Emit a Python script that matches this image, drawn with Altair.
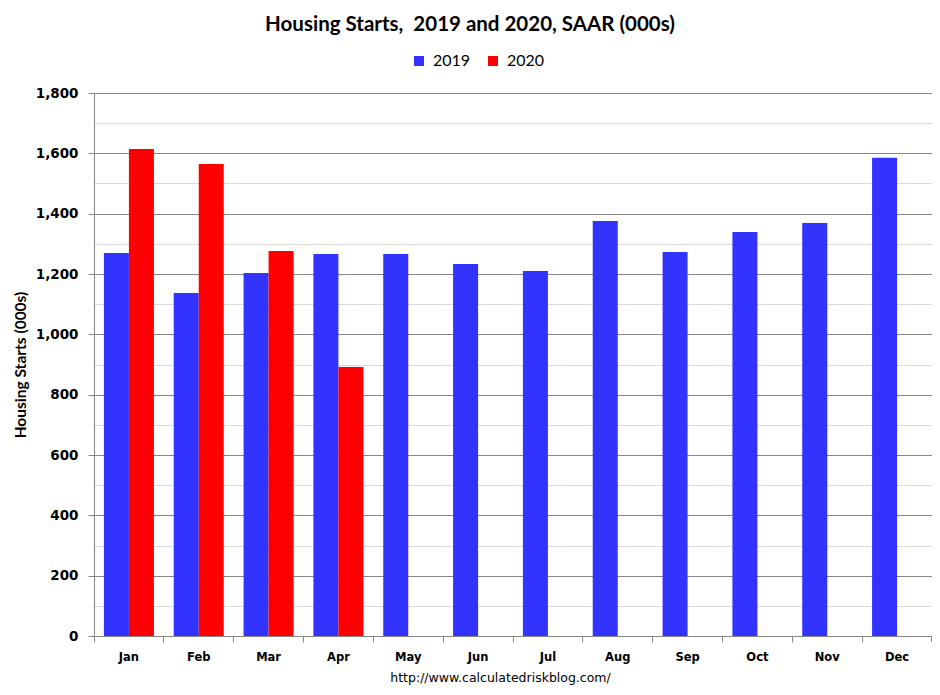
import altair as alt
import pandas as pd

months = ["Jan", "Feb", "Mar", "Apr", "May", "Jun", "Jul", "Aug", "Sep", "Oct", "Nov", "Dec"]
starts_2019 = [1270, 1137, 1203, 1266, 1266, 1233, 1210, 1376, 1273, 1339, 1369, 1585]
months_2020 = ["Jan", "Feb", "Mar", "Apr"]
starts_2020 = [1614, 1565, 1276, 892]

rows = [{"month": m, "year": "2019", "value": v} for m, v in zip(months, starts_2019)]
rows += [{"month": m, "year": "2020", "value": v} for m, v in zip(months_2020, starts_2020)]
df = pd.DataFrame(rows)

W, H = 838, 543
grid_major = "#868686"
grid_minor = "#d9d9d9"

bars = alt.Chart(df).mark_bar().encode(
    x=alt.X(
        "month:N",
        sort=months,
        scale=alt.Scale(paddingInner=0, paddingOuter=0),
        axis=alt.Axis(
            title="http://www.calculatedriskblog.com/",
            titleFont="DejaVu Sans",
            titleFontWeight="normal",
            titleFontSize=12.5,
            titleColor="#000000",
            titleX=406,
            titleY=45,
            titleBaseline="alphabetic",
            labelAngle=0,
            labelFont="DejaVu Sans",
            labelFontWeight="bold",
            labelFontSize=11.5,
            labelColor="#000000",
            labelPadding=9,
            bandPosition=0,
            ticks=True,
            tickSize=6,
            tickWidth=1,
            tickColor=grid_major,
            domainColor=grid_major,
            grid=False,
        ),
    ),
    xOffset=alt.XOffset("year:N", scale=alt.Scale(paddingOuter=0.396, paddingInner=0)),
    y=alt.Y(
        "value:Q",
        scale=alt.Scale(domain=[0, 1800], nice=False),
        axis=alt.Axis(
            title="Housing Starts (000s)",
            titleFont="Lato",
            titleFontWeight="bold",
            titleFontSize=15.5,
            titleColor="#000000",
            titleX=-74,
            titleY=H / 2,
            titleAngle=-90,
            titleAlign="center",
            titleBaseline="middle",
            values=list(range(0, 1801, 100)),
            labelExpr="datum.value % 200 ? '' : format(datum.value, ',')",
            labelFont="DejaVu Sans",
            labelFontWeight="bold",
            labelFontSize=13.5,
            labelColor="#000000",
            labelPadding=10,
            tickSize=6,
            tickColor={"condition": {"test": "datum.value % 200 === 0", "value": grid_major}, "value": "transparent"},
            domainColor=grid_major,
            grid=True,
            gridColor={"condition": {"test": "datum.value % 200 === 0", "value": grid_major}, "value": grid_minor},
        ),
    ),
    color=alt.Color(
        "year:N",
        scale=alt.Scale(domain=["2019", "2020"], range=["#3333FF", "#FF0000"]),
        legend=alt.Legend(
            title=None,
            orient="none",
            legendX=317,
            legendY=-40,
            direction="horizontal",
            symbolType="square",
            symbolSize=100,
            symbolStrokeWidth=0,
            labelFont="Lato",
            labelFontSize=16,
            labelColor="#000000",
            labelOffset=6,
            columnPadding=14,
        ),
    ),
)

end_tick = alt.Chart(pd.DataFrame({"k": [0]})).mark_rule(color=grid_major, strokeWidth=1).encode(
    x=alt.value(W - 0.5), y=alt.value(H), y2=alt.value(H + 6)
)

chart = alt.layer(bars, end_tick).properties(
    width=W,
    height=H,
    title=alt.TitleParams(
        "Housing Starts,\u00a0 2019 and 2020, SAAR (000s)",
        font="Lato",
        fontSize=20.5,
        fontWeight="bold",
        color="#000000",
        anchor="middle",
        dx=-43,
        offset=18,
    ),
    autosize=alt.AutoSizeParams(type="none"),
    padding={"left": 86, "top": 85, "right": 0, "bottom": 51},
).configure_view(stroke=None).configure(background="white")

chart.save("out.html", embed_options={"renderer": "svg", "actions": False})
